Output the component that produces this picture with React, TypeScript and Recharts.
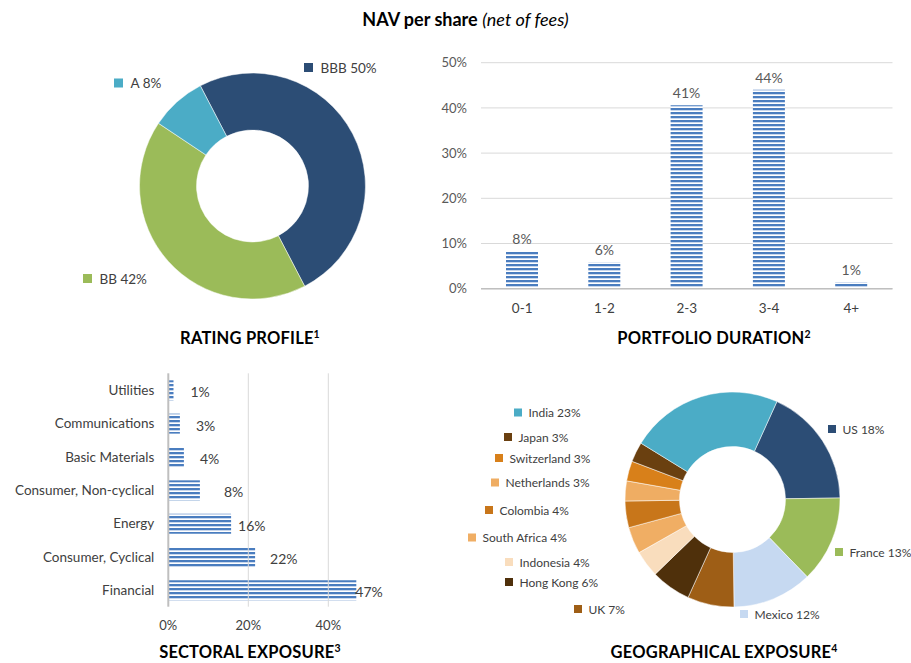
import React from 'react';
import { PieChart, Pie, Cell, BarChart, Bar, XAxis, YAxis, CartesianGrid, LabelList, ReferenceLine } from 'recharts';

const FONT = 'Lato, "Open Sans", sans-serif';

// ---------- data ----------
const ratingNames = ['BBB', 'BB', 'A'];
const ratingValues = [50, 42, 8];

const durationCategories = ['0-1', '1-2', '2-3', '3-4', '4+'];
const durationValues = [0.083, 0.058, 0.406, 0.44, 0.014];
const durationTicks = [0, 0.1, 0.2, 0.3, 0.4, 0.5];

const sectorNames = ['Utilities', 'Communications', 'Basic Materials', 'Consumer, Non-cyclical', 'Energy', 'Consumer, Cyclical', 'Financial'];
const sectorValues = [0.013, 0.029, 0.039, 0.079, 0.157, 0.217, 0.47];
const sectorTicks = [0, 0.2, 0.4];
const sectorGrid = [0.2, 0.4];

const geoNames = ['US', 'France', 'Mexico', 'UK', 'Hong Kong', 'Indonesia', 'South Africa', 'Colombia', 'Netherlands', 'Switzerland', 'Japan', 'India'];
const geoValues = [18, 13, 12, 7, 6, 4, 4, 4, 3, 3, 3, 23];

// ---------- styles / layout ----------
const ratingColors = ['#2C4D75', '#9BBB59', '#4BACC6'];
const geoColors = ['#2C4D75', '#9BBB59', '#C6D9F1', '#9E5E16', '#4F300B', '#F9DDBD', '#F0AE64', '#C8761A', '#EFAD63', '#D8801A', '#6A4010', '#4BACC6'];

// label anchors (marker left x, center y) in page coordinates
const ratingLabelPos = [[304, 67.5], [83, 278.5], [114, 83]];
const geoLabelPos = [
  [828, 429], [835, 552], [740, 614], [574, 609], [505, 582], [505, 562],
  [468, 537.5], [485, 510], [491, 482.5], [495, 458], [504, 437], [514, 412.5],
];
// horizontal gap between bar end and its value label (sector chart)
const sectorLabelGap = [17, 16, 16, 24, 7, 15, -1];

const W = 911;
const H = 663;

const pct = (v: number) => `${Math.round(v * 100)}%`;

const ratingData = ratingNames.map((n, i) => ({ name: n, value: ratingValues[i] }));
const durationData = durationCategories.map((c, i) => ({ cat: c, value: durationValues[i] }));
const sectorData = sectorNames.map((c, i) => ({ cat: c, value: sectorValues[i] }));
const geoData = geoNames.map((n, i) => ({ name: n, value: geoValues[i] }));

const makeLabel = (names: string[], values: number[], pos: number[][], colors: string[], size: number, fontSize: number, gap: number) =>
  (props: any) => {
    const i = props.index;
    const [x, y] = pos[i];
    return (
      <g key={`lbl-${i}`}>
        <rect x={x} y={y - size / 2} width={size} height={size} fill={colors[i]} />
        <text x={x + size + gap} y={y} dominantBaseline="central" fontSize={fontSize} fill="#404040" fontFamily={FONT}>
          {`${names[i]} ${values[i]}%`}
        </text>
      </g>
    );
  };

const SectorTick = (props: any) => {
  const { x, y, payload } = props;
  return (
    <text x={x} y={y} textAnchor="end" dominantBaseline="central" fontSize={13.5} fill="#404040" fontFamily={FONT}>
      {payload.value}
    </text>
  );
};

const SectorValueLabel = (props: any) => {
  const { x, y, width, height, index, value } = props;
  return (
    <text x={x + width + sectorLabelGap[index]} y={y + height / 2 + 1.5} dominantBaseline="central" fontSize={14} fill="#404040" fontFamily={FONT}>
      {pct(Number(value))}
    </text>
  );
};

const layer: React.CSSProperties = { position: 'absolute', left: 0, top: 0 };

const Title = ({ cx, cy, text, sup }: { cx: number; cy: number; text: string; sup: string }) => (
  <div
    style={{
      position: 'absolute', left: cx - 200, width: 400, top: cy - 9, height: 18, lineHeight: '18px',
      textAlign: 'center', fontFamily: FONT, fontWeight: 700, fontSize: 16.5, letterSpacing: 0.2, color: '#000',
    }}
  >
    {text}
    <sup style={{ fontSize: 10.5, lineHeight: 0, verticalAlign: 'super' }}>{sup}</sup>
  </div>
);

const Stripes = ({ id }: { id: string }) => (
  <defs>
    <pattern id={id} patternUnits="userSpaceOnUse" width={8} height={4}>
      <rect width={8} height={4} fill="#ffffff" />
      <rect width={8} height={2.3} fill="#4A7DBF" />
      <rect y={2.3} width={8} height={0.7} fill="#C9D8EE" />
    </pattern>
  </defs>
);

export default function App() {
  return (
    <div style={{ position: 'absolute', left: 0, top: 0, width: W, height: H, background: '#fff', overflow: 'hidden', fontFamily: FONT }}>
      <div
        style={{
          position: 'absolute', left: 10, width: W, top: 8, height: 22, lineHeight: '22px', textAlign: 'center',
          fontFamily: FONT, fontSize: 18, color: '#000',
        }}
      >
        <span style={{ fontWeight: 700 }}>NAV per share</span> <span style={{ fontStyle: 'italic' }}>(net of fees)</span>
      </div>

      {/* Portfolio duration */}
      <div style={layer}>
        <BarChart width={W} height={H} data={durationData} margin={{ top: 62.7, right: 18.5, bottom: 344.3, left: 431 }}>
          <Stripes id="stripeV" />
          <CartesianGrid vertical={false} stroke="#D9D9D9" />
          <XAxis
            dataKey="cat" height={30} axisLine={{ stroke: '#BFBFBF', strokeWidth: 1.5 }} tickLine={false} tickMargin={9}
            tick={{ fontSize: 13.5, fill: '#404040', fontFamily: FONT }}
          />
          <YAxis
            width={50} domain={[0, 0.5]} ticks={durationTicks} tickFormatter={pct} axisLine={false} tickLine={false} tickMargin={8}
            tick={{ fontSize: 13, fill: '#595959', fontFamily: FONT }}
          />
          <Bar dataKey="value" fill="url(#stripeV)" barSize={32} isAnimationActive={false}>
            <LabelList dataKey="value" position="top" offset={7} formatter={(v: any) => pct(Number(v))} style={{ fontSize: 14, fill: '#595959', fontFamily: FONT }} />
          </Bar>
        </BarChart>
      </div>

      {/* Sectoral exposure */}
      <div style={layer}>
        <BarChart width={W} height={H} data={sectorData} layout="vertical" margin={{ top: 373.3, right: 542.7, bottom: 26.3, left: 8.3 }}>
          <Stripes id="stripeH" />
          {sectorGrid.map((g) => (
            <ReferenceLine key={g} x={g} stroke="#D9D9D9" strokeWidth={1} ifOverflow="visible" />
          ))}
          <XAxis
            type="number" domain={[0, 0.5]} ticks={sectorTicks} tickFormatter={pct} height={30} axisLine={false} tickLine={false} tickMargin={8}
            tick={{ fontSize: 13, fill: '#404040', fontFamily: FONT }}
          />
          <YAxis
            type="category" dataKey="cat" width={160} axisLine={{ stroke: '#BFBFBF', strokeWidth: 2 }} tickLine={false} tickMargin={8}
            tick={<SectorTick />}
          />
          <Bar dataKey="value" fill="url(#stripeH)" barSize={20} isAnimationActive={false}>
            <LabelList dataKey="value" content={<SectorValueLabel />} />
          </Bar>
        </BarChart>
      </div>

      {/* Rating profile */}
      <div style={layer}>
        <PieChart width={W} height={H}>
          <Pie
            data={ratingData} dataKey="value" nameKey="name" cx={247.5} cy={181} innerRadius={56} outerRadius={113}
            startAngle={117.5} endAngle={-242.5} stroke="#ffffff" strokeWidth={0.5} isAnimationActive={false}
            labelLine={false} label={makeLabel(ratingNames, ratingValues, ratingLabelPos, ratingColors, 9, 13.5, 7.5)}
          >
            {ratingData.map((d, i) => <Cell key={d.name} fill={ratingColors[i]} />)}
          </Pie>
        </PieChart>
      </div>

      {/* Geographical exposure */}
      <div style={layer}>
        <PieChart width={W} height={H}>
          <Pie
            data={geoData} dataKey="value" nameKey="name" cx={727.5} cy={494.5} innerRadius={53} outerRadius={107.5}
            startAngle={65.6} endAngle={-294.4} stroke="#ffffff" strokeWidth={0.5} isAnimationActive={false}
            labelLine={false} label={makeLabel(geoNames, geoValues, geoLabelPos, geoColors, 8, 12, 6.5)}
          >
            {geoData.map((d, i) => <Cell key={d.name} fill={geoColors[i]} />)}
          </Pie>
        </PieChart>
      </div>

      <Title cx={250} cy={338} text="RATING PROFILE" sup="1" />
      <Title cx={714} cy={338} text="PORTFOLIO DURATION" sup="2" />
      <Title cx={250} cy={652} text="SECTORAL EXPOSURE" sup="3" />
      <Title cx={724} cy={652} text="GEOGRAPHICAL EXPOSURE" sup="4" />
    </div>
  );
}
